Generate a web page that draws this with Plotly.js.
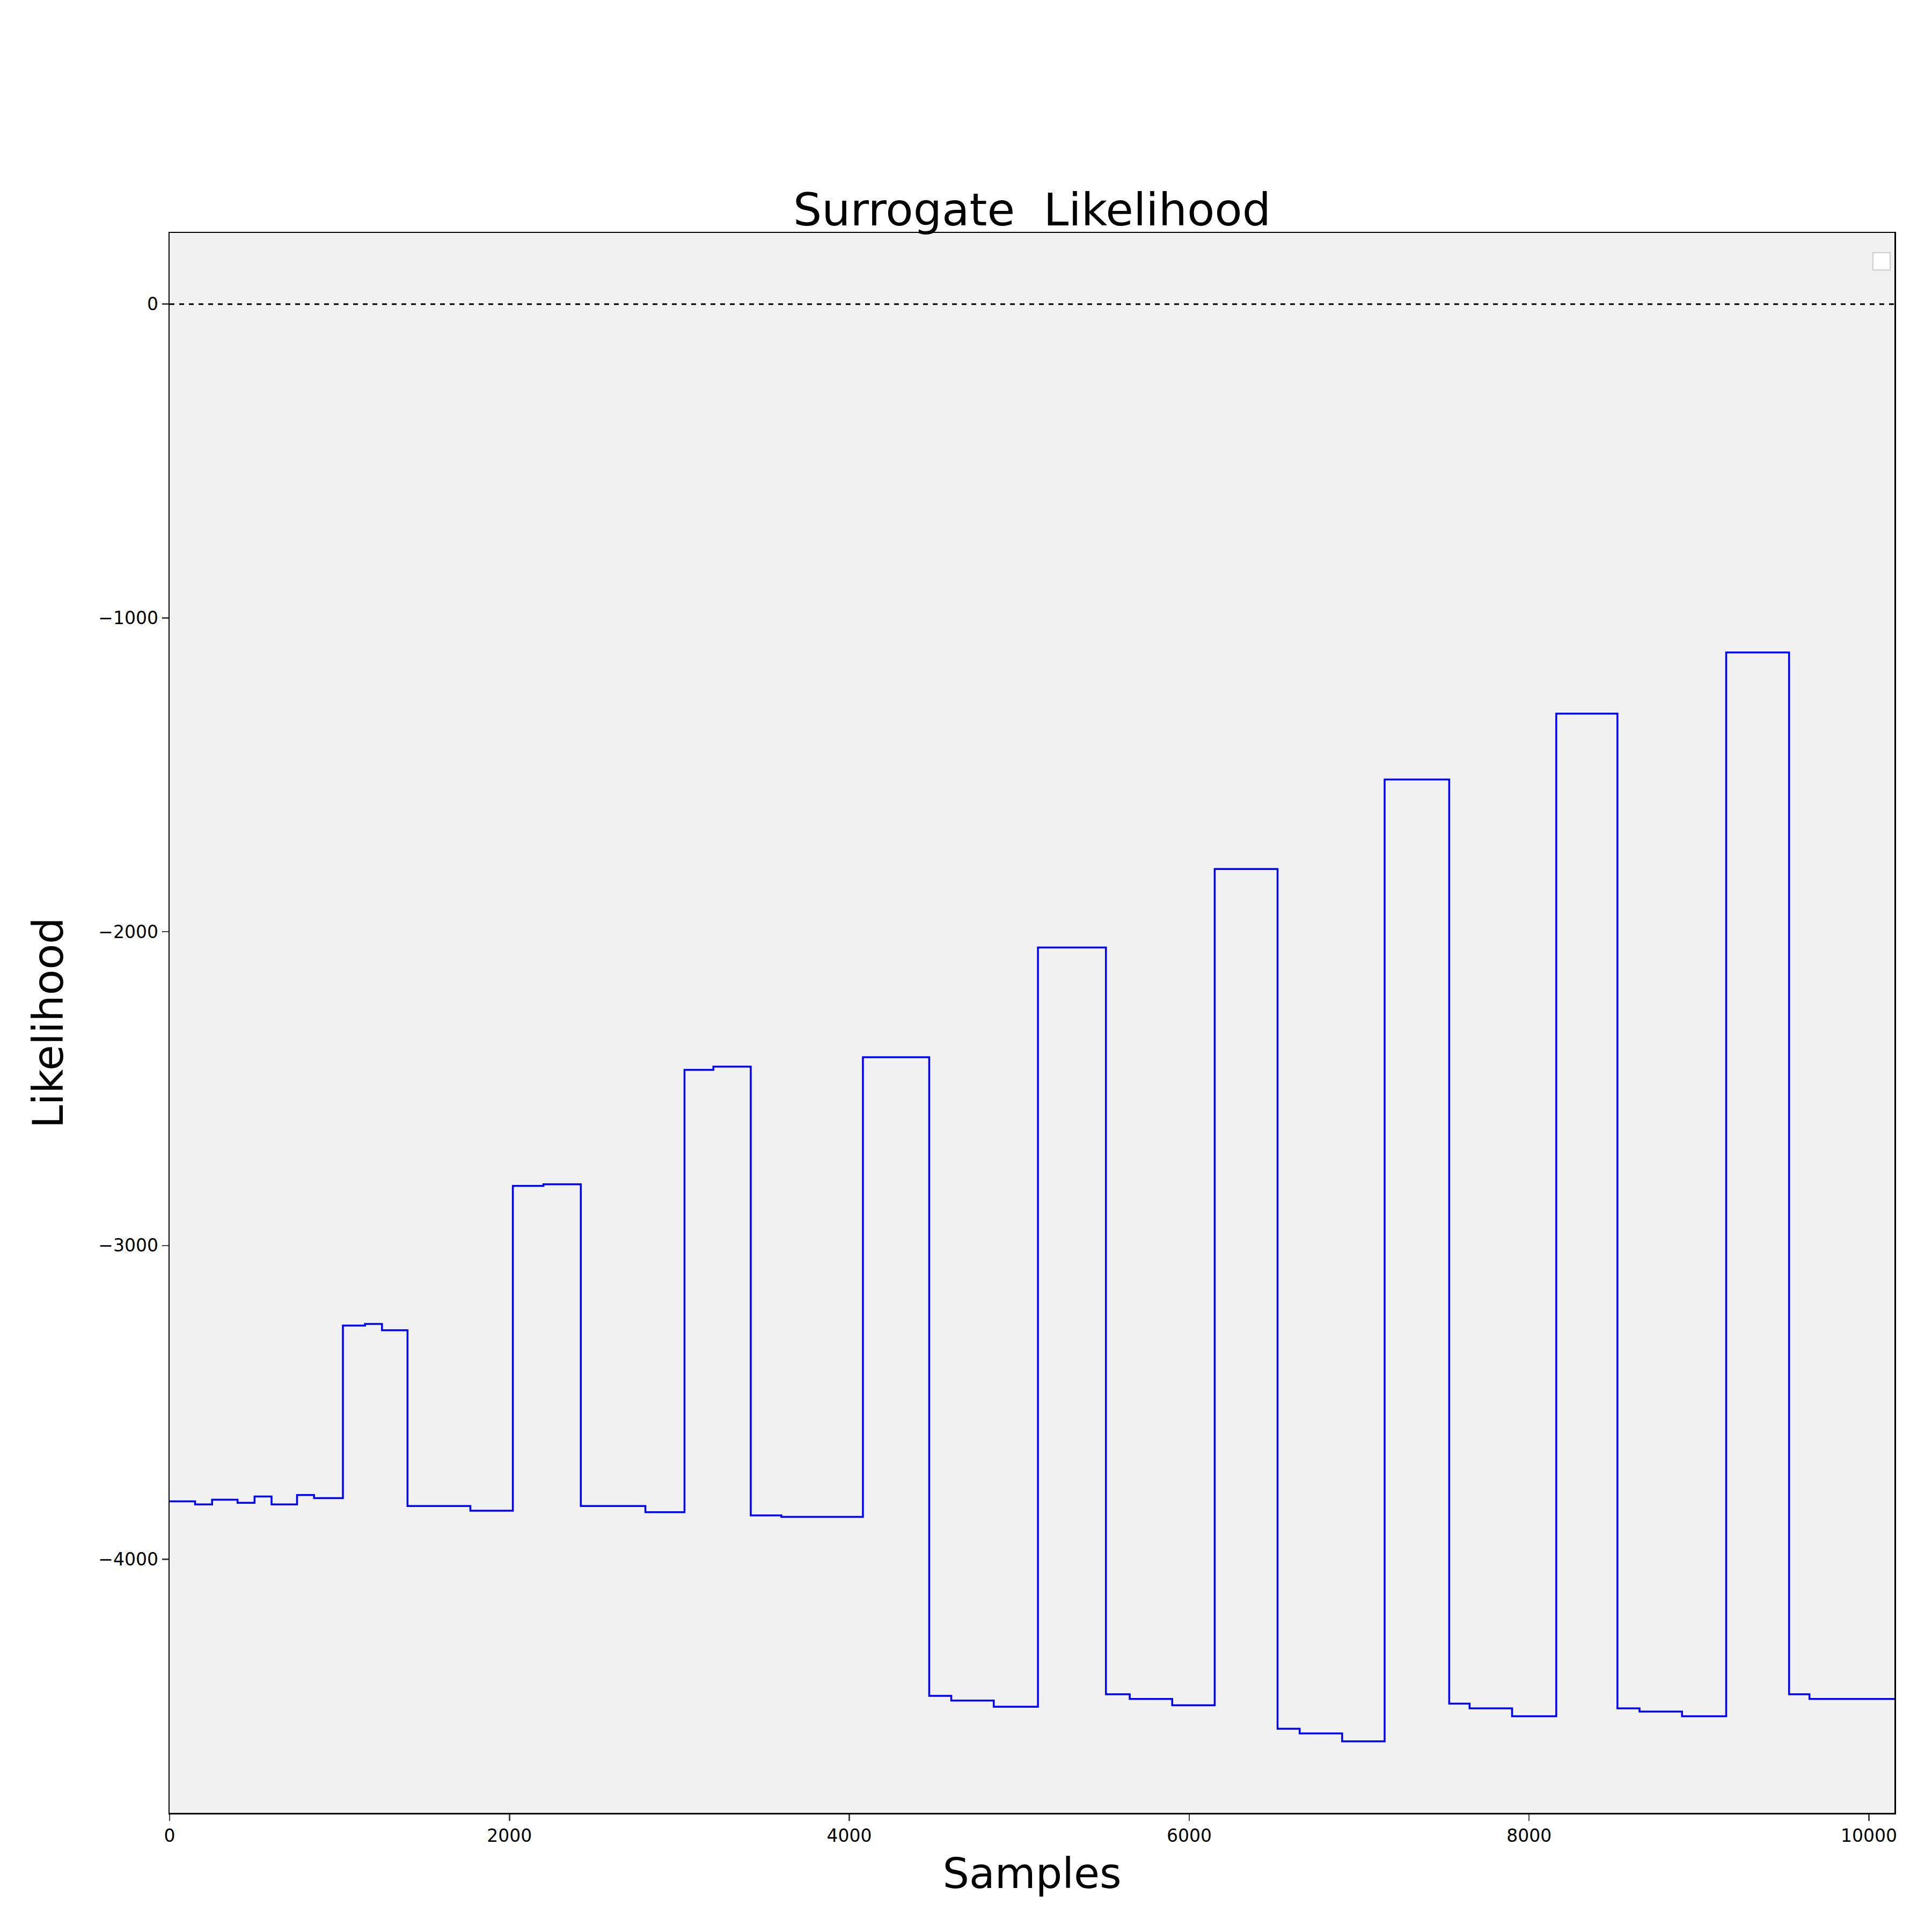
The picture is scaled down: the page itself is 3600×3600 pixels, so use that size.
<!DOCTYPE html>
<html>
<head>
<meta charset="utf-8">
<script src="https://cdn.plot.ly/plotly-3.0.1.min.js"></script>
<style>html,body{margin:0;padding:0;background:#fff}</style>
</head>
<body>
<div id="chart" style="width:3600px;height:3600px"></div>
<script>
// step starts (samples) and level at each step
var stepX = [0, 150, 250, 400, 500, 600, 750, 850, 1020, 1150, 1250, 1400, 1770, 2020, 2200, 2420, 2800, 3030, 3200, 3420, 3600, 4080, 4470, 4600, 4850, 5110, 5510, 5650, 5900, 6150, 6520, 6650, 6900, 7150, 7530, 7650, 7900, 8160, 8520, 8650, 8900, 9160, 9530, 9650, 10150];
var stepY = [-3815, -3825, -3810, -3820, -3800, -3825, -3795, -3805, -3255, -3250, -3270, -3830, -3845, -2810, -2805, -3830, -3850, -2440, -2430, -3860, -3865, -2400, -4435, -4450, -4470, -2050, -4430, -4445, -4465, -1800, -4540, -4555, -4580, -1515, -4460, -4475, -4500, -1305, -4475, -4485, -4500, -1110, -4430, -4445, -4445];
var xTicks = [0, 2000, 4000, 6000, 8000, 10000];
var yTicks = [0, -1000, -2000, -3000, -4000];

var LINE = document.getElementById('chart');

var trace = {
  x: stepX,
  y: stepY,
  mode: 'lines',
  line: {color: '#0000ff', width: 3.5, shape: 'hv'},
  showlegend: false,
  type: 'scatter'
};

var layout = {
  width: 3600, height: 3600,
  margin: {l: 316, r: 70, t: 434, b: 222},
  paper_bgcolor: '#ffffff',
  plot_bgcolor: '#f1f1f1',
  font: {family: 'DejaVu Sans', color: '#000'},
  title: {text: 'Surrogate  Likelihood', font: {size: 84}, xref: 'paper', x: 0.5, xanchor: 'center',
          yref: 'paper', y: 1, yanchor: 'bottom', pad: {b: 14}},
  xaxis: {
    range: [0, 10150], showgrid: false, zeroline: false,
    showline: true, mirror: true, linecolor: '#000', linewidth: 2.5,
    ticks: 'outside', ticklen: 12, tickwidth: 2.5, tickfont: {size: 33},
    tickvals: xTicks, ticktext: xTicks.map(String),
    title: {text: 'Samples', font: {size: 78}, standoff: 25}
  },
  yaxis: {
    range: [-4808, 227], showgrid: false, zeroline: false,
    showline: true, mirror: true, linecolor: '#000', linewidth: 2.5,
    ticks: 'outside', ticklen: 12, tickwidth: 2.5, tickfont: {size: 33},
    tickvals: yTicks,
    ticktext: yTicks.map(function (v) { return String(v).replace('-', '\u2212'); }),
    title: {text: 'Likelihood', font: {size: 78}, standoff: 40}
  },
  shapes: [
    {type: 'line', xref: 'paper', x0: 0, x1: 1, yref: 'y', y0: 0, y1: 0,
     line: {color: '#000', width: 3, dash: 'dash'}},
    {type: 'rect', xref: 'paper', yref: 'paper', x0: 0.9875, x1: 0.9975, y0: 0.9765, y1: 0.9875,
     fillcolor: '#ffffff', line: {color: '#cccccc', width: 2}}
  ],
  hovermode: false
};

Plotly.newPlot(LINE, [trace], layout, {staticPlot: true});
</script>
</body>
</html>
